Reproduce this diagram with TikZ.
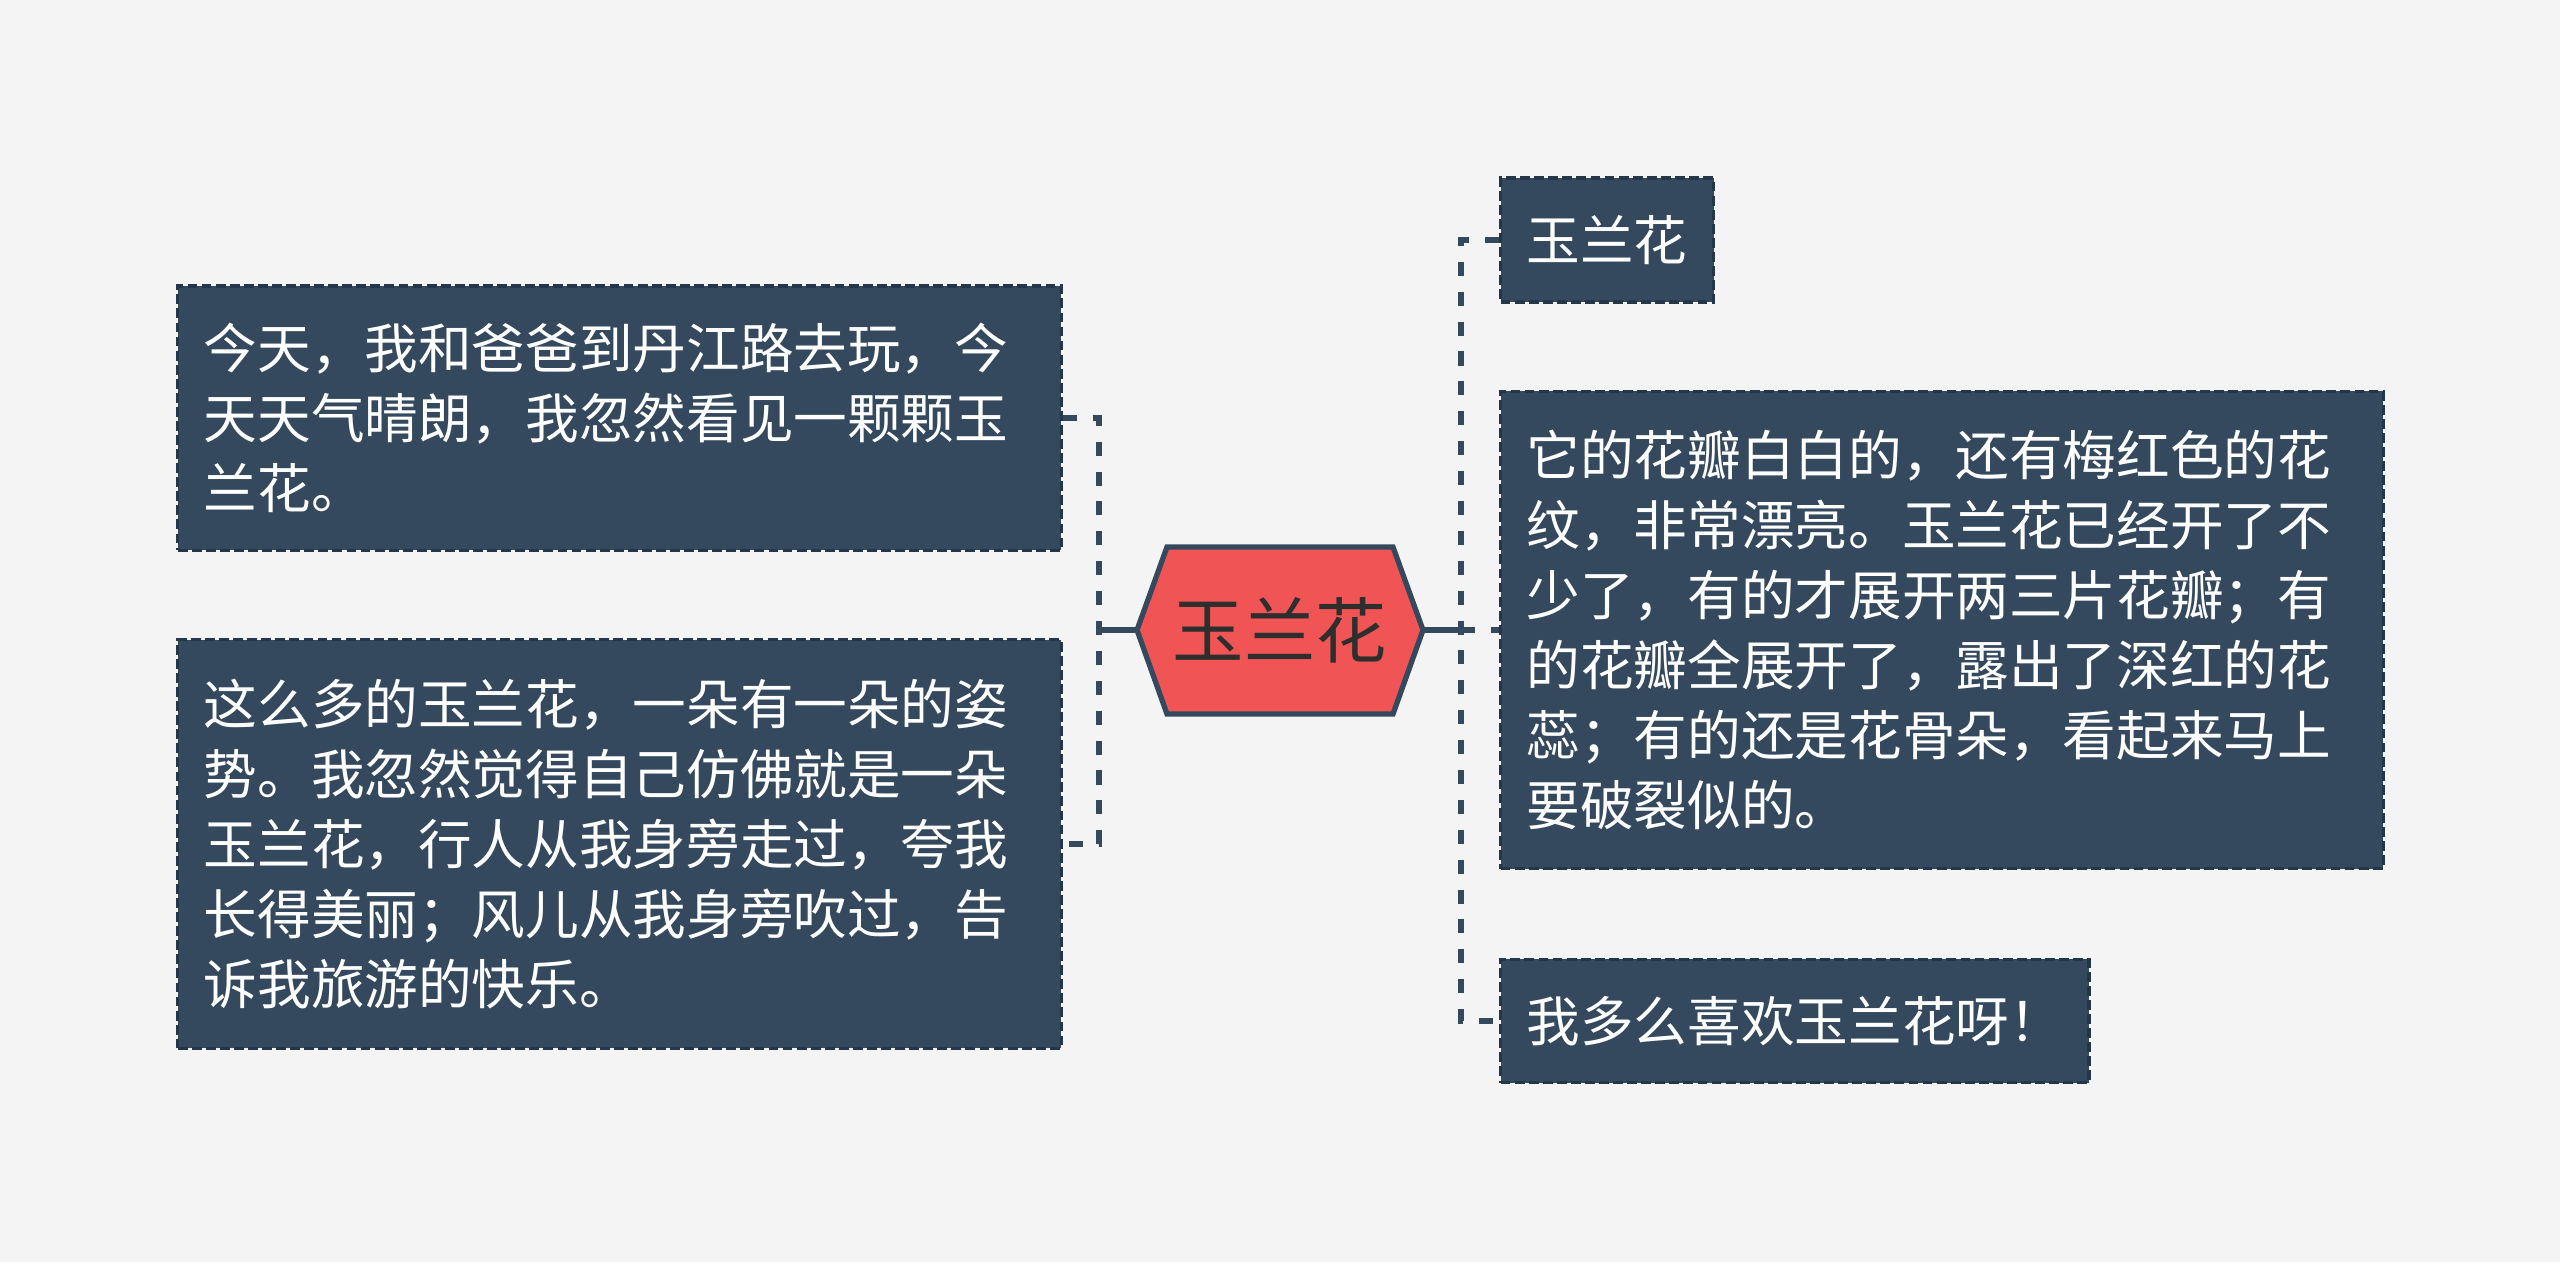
\documentclass[tikz,border=0pt]{standalone}
\usepackage{fontspec}
\setmainfont{Noto Sans CJK SC}
\usepackage{tikz}
\usetikzlibrary{positioning}
\definecolor{bgcol}{HTML}{F4F4F4}
\definecolor{slate}{HTML}{34495E}
\definecolor{slateedge}{HTML}{24374A}
\definecolor{rosered}{HTML}{F05454}
\definecolor{inkgray}{HTML}{2E2E2E}

\begin{document}
\begin{tikzpicture}[x=0.01cm, y=-0.01cm,
    topic/.style={draw=slateedge, fill=slate, dash pattern=on 2.8pt off 1.2pt, line width=0.9pt,
                  text=white, font={\fontsize{15.25pt}{19.9pt}\selectfont}, inner xsep=0.26cm, inner ysep=0pt, align=left},
    link/.style={draw=slate, line width=1.7pt},
    trunk/.style={link, dash pattern=on 4pt off 4.5pt}]
    \useasboundingbox[fill=bgcol] (0,0) rectangle (2560,1262);

    \draw[draw=slate, line width=1.5pt, fill=rosered, line join=miter]
        (1137,630) -- (1167,547) -- (1393,547) -- (1423,630) -- (1393,714) -- (1167,714) -- cycle;
    \node[text=inkgray, font={\fontsize{20.3pt}{24pt}\selectfont}, minimum width=2.86cm, minimum height=1.67cm, inner sep=0pt] (root) at (1280,630) {玉兰花};

    \node[topic, text width=8.31cm, minimum height=2.64cm] (story) at (619.5,418) {今天，我和爸爸到丹江路去玩，今\\天天气晴朗，我忽然看见一颗颗玉\\兰花。};
    \node[topic, text width=8.31cm, minimum height=4.08cm] (feeling) at (619.5,844) {这么多的玉兰花，一朵有一朵的姿\\势。我忽然觉得自己仿佛就是一朵\\玉兰花，行人从我身旁走过，夸我\\长得美丽；风儿从我身旁吹过，告\\诉我旅游的快乐。};

    \node[topic, anchor=west, minimum height=1.24cm] (title) at (1499,240) {玉兰花};
    \node[topic, anchor=west, text width=8.30cm, minimum height=4.77cm] (petals) at (1499,630) {它的花瓣白白的，还有梅红色的花\\纹，非常漂亮。玉兰花已经开了不\\少了，有的才展开两三片花瓣；有\\的花瓣全展开了，露出了深红的花\\蕊；有的还是花骨朵，看起来马上\\要破裂似的。};
    \node[topic, anchor=west, minimum height=1.23cm] (love) at (1499,1021) {我多么喜欢玉兰花呀！};

    \coordinate (ljoin) at (1099,630);
    \coordinate (rjoin) at (1461,630);

    \draw[link] (root.west) -- (ljoin);
    \draw[trunk] (story.east) -- (ljoin |- story.east) -- (ljoin |- feeling.east) -- (feeling.east);

    \draw[link] (root.east) -- (rjoin);
    \draw[trunk] (title.west) -- (rjoin |- title.west) -- (rjoin |- love.west) -- (love.west);
    \draw[trunk] (rjoin) -- (petals.west);
\end{tikzpicture}
\end{document}
